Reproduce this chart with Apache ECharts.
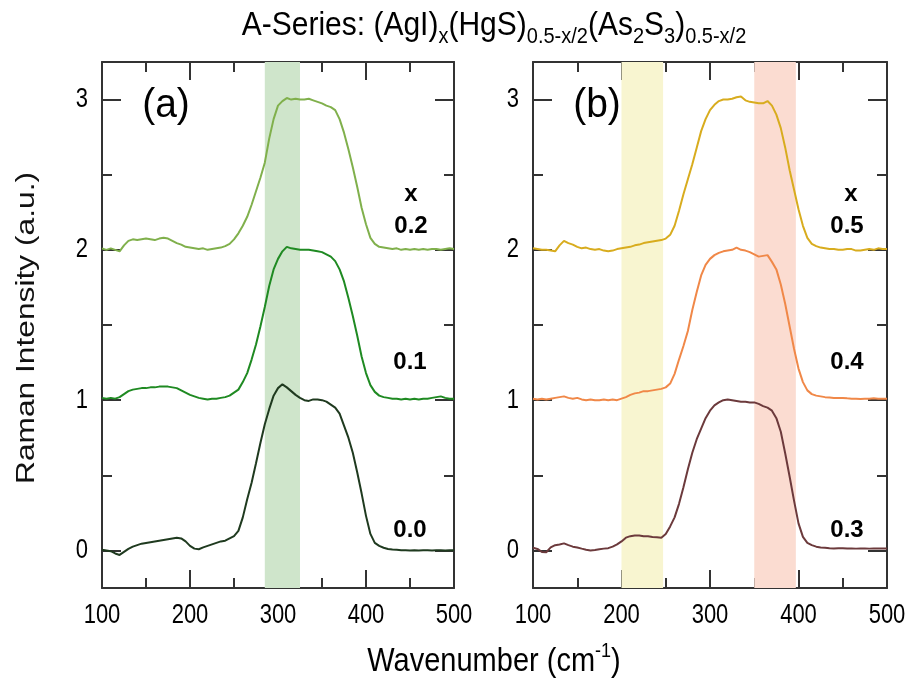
<!DOCTYPE html>
<html>
<head>
<meta charset="utf-8">
<script src="https://cdn.jsdelivr.net/npm/echarts@6/dist/echarts.min.js"></script>
<style>
html,body{margin:0;padding:0;background:#fff;}
#chart{width:911px;height:686px;}
</style>
</head>
<body>
<div id="chart"></div>
<script>
// ---- data ----
const wavenumber = [100,105,110,115,120,125,130,135,140,145,
  150,155,160,165,170,175,180,185,190,195,
  200,205,210,215,220,225,230,235,240,245,
  250,255,260,265,270,275,280,285,290,295,
  300,305,310,315,320,325,330,335,340,345,
  350,355,360,365,370,375,380,385,390,395,
  400,405,410,415,420,425,430,435,440,445,
  450,455,460,465,470,475,480,485,490,495,500];

// panel (a): x = 0.2 (offset 2), 0.1 (offset 1), 0.0 (offset 0)
const a_x02 = [2.01,2.00,2.01,2.00,1.99,2.03,2.06,2.07,2.065,2.07,
  2.075,2.07,2.065,2.075,2.08,2.075,2.06,2.045,2.035,2.02,
  2.015,2.01,2.005,2.01,2.0,2.005,2.01,2.015,2.025,2.04,
  2.07,2.11,2.16,2.22,2.30,2.39,2.48,2.58,2.74,2.87,
  2.96,2.99,3.01,3.0,3.005,3.0,3.0,3.005,2.995,2.985,
  2.975,2.96,2.95,2.93,2.87,2.78,2.67,2.55,2.42,2.28,
  2.17,2.08,2.04,2.02,2.015,2.01,2.005,2.01,2.0,2.005,
  2.0,2.005,2.0,2.005,2.0,2.005,2.005,2.0,2.005,2.01,2.005];
const a_x01 = [1.015,1.01,1.015,1.01,1.02,1.04,1.06,1.07,1.075,1.08,
  1.08,1.085,1.085,1.09,1.09,1.09,1.085,1.08,1.065,1.05,
  1.035,1.025,1.015,1.01,1.005,1.01,1.01,1.015,1.02,1.03,
  1.05,1.07,1.12,1.18,1.27,1.37,1.49,1.62,1.76,1.87,
  1.94,1.99,2.02,2.01,2.005,2.0,2.0,2.0,1.995,1.99,
  1.985,1.97,1.955,1.925,1.87,1.79,1.68,1.56,1.43,1.29,
  1.18,1.10,1.055,1.03,1.02,1.015,1.01,1.01,1.005,1.01,
  1.005,1.01,1.005,1.01,1.01,1.015,1.02,1.025,1.015,1.01,1.01];
const a_x00 = [0.005,0.0,-0.005,-0.02,-0.03,-0.01,0.01,0.025,0.035,0.045,
  0.05,0.055,0.06,0.065,0.07,0.075,0.08,0.085,0.08,0.06,
  0.03,0.012,0.008,0.02,0.03,0.04,0.05,0.06,0.065,0.08,
  0.095,0.13,0.22,0.34,0.45,0.58,0.715,0.84,0.94,1.03,
  1.08,1.105,1.085,1.06,1.035,1.015,1.0,0.995,1.005,1.005,
  1.0,0.99,0.97,0.95,0.91,0.83,0.75,0.65,0.52,0.38,
  0.23,0.11,0.05,0.03,0.018,0.01,0.006,0.004,0.002,0.001,
  0.0,0.002,0.0,0.001,0.002,0.0,0.002,0.001,0.0,0.001,0.002];

// panel (b): x = 0.5 (offset 2), 0.4 (offset 1), 0.3 (offset 0)
const b_x05 = [2.01,2.005,2.0,2.0,1.995,1.99,2.03,2.06,2.045,2.035,
  2.02,2.01,2.015,2.005,2.0,2.005,1.995,1.99,1.995,2.005,
  2.01,2.015,2.02,2.03,2.035,2.045,2.05,2.055,2.06,2.065,
  2.075,2.1,2.16,2.26,2.37,2.47,2.57,2.68,2.79,2.87,
  2.93,2.965,2.99,3.0,3.0,3.005,3.015,3.02,2.995,2.985,
  2.98,2.975,2.975,2.99,2.96,2.9,2.81,2.68,2.53,2.40,
  2.27,2.16,2.08,2.04,2.025,2.015,2.01,2.005,2.005,2.0,
  2.0,2.005,2.005,1.995,1.995,2.0,2.005,2.0,2.01,2.005,2.005];
const b_x04 = [1.01,1.005,1.01,1.005,1.01,1.015,1.02,1.025,1.015,1.01,
  1.015,1.005,1.0,1.005,1.0,1.0,1.005,1.0,1.005,1.0,
  1.01,1.02,1.035,1.045,1.05,1.06,1.06,1.065,1.07,1.075,
  1.085,1.11,1.175,1.27,1.36,1.46,1.6,1.72,1.83,1.9,
  1.94,1.965,1.98,1.99,1.995,2.0,2.015,2.0,1.995,1.985,
  1.97,1.955,1.96,1.965,1.92,1.87,1.77,1.64,1.49,1.34,
  1.21,1.12,1.065,1.04,1.03,1.025,1.02,1.018,1.015,1.015,
  1.015,1.012,1.01,1.01,1.008,1.01,1.01,1.012,1.01,1.01,1.01];
const b_x03 = [0.018,0.01,-0.01,-0.012,0.02,0.035,0.04,0.047,0.035,0.025,
  0.02,0.012,0.005,0.0,0.003,0.008,0.012,0.015,0.025,0.04,
  0.06,0.085,0.095,0.1,0.1,0.095,0.095,0.09,0.088,0.085,
  0.11,0.16,0.22,0.31,0.42,0.54,0.65,0.74,0.81,0.88,
  0.93,0.965,0.985,1.0,1.005,1.0,0.995,0.99,0.99,0.985,
  0.985,0.975,0.96,0.95,0.93,0.88,0.79,0.645,0.49,0.33,
  0.18,0.09,0.05,0.035,0.025,0.02,0.018,0.015,0.013,0.014,
  0.015,0.013,0.013,0.012,0.013,0.013,0.012,0.013,0.013,0.013,0.013];

const xTicks = [100, 200, 300, 400, 500];
const yTicks = [0, 1, 2, 3];
const yMinorTicks = [0.5, 1.5, 2.5];
const bandA = [285, 325];          // green band, panel (a)
const bandB1 = [200, 247];         // yellow band, panel (b)
const bandB2 = [350, 397];         // pink band, panel (b)
const labelsA = ['0.2', '0.1', '0.0'];
const labelsB = ['0.5', '0.4', '0.3'];

// ---- chart ----
const FONT = '"Liberation Sans", Arial, sans-serif';
const AX = '#333';
const GRIDS = [{left: 102, top: 62, width: 352, height: 526},
               {left: 533, top: 62, width: 354, height: 526}];
const chart = echarts.init(document.getElementById('chart'), null, {renderer: 'canvas'});

const pair = vals => wavenumber.map((w, i) => [w, vals[i]]);

function xAxes(gi) {
  const base = {
    gridIndex: gi, type: 'value', min: 100, max: 500, interval: 100,
    axisLine: {show: true, onZero: false, lineStyle: {color: AX, width: 2}},
    axisTick: {show: true, inside: true, length: 18, lineStyle: {color: AX, width: 2}},
    minorTick: {show: true, splitNumber: 2, length: 10, lineStyle: {color: AX, width: 2}},
    axisLabel: {show: false},
    splitLine: {show: false}, minorSplitLine: {show: false}
  };
  return [
    Object.assign({}, base, {position: 'bottom'}),
    Object.assign({}, base, {position: 'top'})
  ];
}
function yAxes(gi) {
  const common = {gridIndex: gi, type: 'value', min: -0.25, max: 3.25,
    splitLine: {show: false}, axisLabel: {show: false}};
  return [
    Object.assign({}, common, {position: 'left',
      axisLine: {show: true, onZero: false, lineStyle: {color: AX, width: 2}},
      axisTick: {show: true, inside: true, length: 19, customValues: yTicks, lineStyle: {color: AX, width: 2}}}),
    Object.assign({}, common, {position: 'left',
      axisLine: {show: false, onZero: false},
      axisTick: {show: true, inside: true, length: 10, customValues: yMinorTicks, lineStyle: {color: AX, width: 2}}}),
    Object.assign({}, common, {position: 'right',
      axisLine: {show: true, onZero: false, lineStyle: {color: AX, width: 2}},
      axisTick: {show: true, inside: true, length: 19, customValues: yTicks, lineStyle: {color: AX, width: 2}}}),
    Object.assign({}, common, {position: 'right',
      axisLine: {show: false, onZero: false},
      axisTick: {show: true, inside: true, length: 10, customValues: yMinorTicks, lineStyle: {color: AX, width: 2}}})
  ];
}

function line(gi, vals, color) {
  return {type: 'line', xAxisIndex: gi * 2, yAxisIndex: gi * 4, data: pair(vals),
    showSymbol: false, symbol: 'none', z: 3, silent: true,
    lineStyle: {color: color, width: 2}};
}
function band(gi, ranges) {
  return {type: 'line', xAxisIndex: gi * 2, yAxisIndex: gi * 4, data: pair(a_x00),
    showSymbol: false, symbol: 'none', z: 1, silent: true,
    lineStyle: {opacity: 0},
    markArea: {silent: true, data: ranges.map(r => [
      {xAxis: r[0], itemStyle: {color: r[2], opacity: 1}}, {xAxis: r[1]}])}};
}

function txt(x, y, s, size, weight, sy, align) {
  return {type: 'text', x: x, y: y, silent: true, scaleY: sy || 1,
    style: {text: s, fontSize: size, fontWeight: weight || 'normal', fontFamily: FONT,
      fill: '#000', align: align || 'center', verticalAlign: 'middle'}};
}

const option = {
  backgroundColor: '#fff',
  animation: false,
  grid: GRIDS.map(g => Object.assign({containLabel: false}, g)),
  xAxis: [...xAxes(0), ...xAxes(1)],
  yAxis: [...yAxes(0), ...yAxes(1)],
  series: [
    band(0, [[bandA[0], bandA[1], '#cfe5cb']]),
    band(1, [[bandB1[0], bandB1[1], '#f8f5d0'], [bandB2[0], bandB2[1], '#fbdcd1']]),
    line(0, a_x02, '#80b04c'),
    line(0, a_x01, '#1f8a22'),
    line(0, a_x00, '#1f3a1f'),
    line(1, b_x05, '#d8ac1e'),
    line(1, b_x04, '#f08848'),
    line(1, b_x03, '#6c3a3c')
  ]
};
chart.setOption(option);

// tick labels placed through the axes' own scales
const tickTexts = [];
[0, 1].forEach(gi => {
  const g = GRIDS[gi];
  xTicks.forEach(v => {
    const px = chart.convertToPixel({xAxisIndex: gi * 2}, v);
    tickTexts.push(txt(px, g.top + g.height + 27, String(v), 22, 'normal', 1.25));
  });
  yTicks.forEach(v => {
    const py = chart.convertToPixel({yAxisIndex: gi * 4}, v);
    tickTexts.push(txt(g.left - 14, py, String(v), 22, 'normal', 1.25, 'right'));
  });
});

chart.setOption({
  graphic: [
    {type: 'text', x: 494, y: 26, scaleY: 1.12, silent: true,
      style: {text: '{n|A-Series: (AgI)}{sub|x}{n|(HgS)}{sub|0.5-x/2}{n|(As}{sub|2}{n|S}{sub|3}{n|)}{sub|0.5-x/2}',
        rich: {
          n: {fontSize: 30, fontFamily: FONT, color: '#111'},
          sub: {fontSize: 20, fontFamily: FONT, color: '#111', padding: [20, 0, 0, 0]}
        }, align: 'center', verticalAlign: 'middle'}},
    {type: 'text', x: 27, y: 328, rotation: Math.PI / 2, scaleX: 1.22, silent: true,
      style: {text: 'Raman Intensity (a.u.)', fontSize: 26, fontFamily: FONT, fill: '#111',
        align: 'center', verticalAlign: 'middle'}},
    {type: 'text', x: 494, y: 662, scaleY: 1.12, silent: true,
      style: {text: '{n|Wavenumber (cm}{sup|-1}{n|)}',
        rich: {n: {fontSize: 29, fontFamily: FONT, color: '#111'},
               sup: {fontSize: 18, fontFamily: FONT, color: '#111', padding: [0, 0, 18, 0]}},
        align: 'center', verticalAlign: 'middle'}},
    txt(166, 106, '(a)', 39, 'normal', 1.05),
    txt(597, 106, '(b)', 39, 'normal', 1.05),
    txt(411, 194, 'x', 24, 'bold'),
    txt(411, 226, labelsA[0], 24, 'bold'),
    txt(410, 362, labelsA[1], 24, 'bold'),
    txt(410, 530, labelsA[2], 24, 'bold'),
    txt(851, 194, 'x', 24, 'bold'),
    txt(847, 226, labelsB[0], 24, 'bold'),
    txt(847, 362, labelsB[1], 24, 'bold'),
    txt(847, 530, labelsB[2], 24, 'bold'),
    ...tickTexts
  ]
});
</script>
</body>
</html>
